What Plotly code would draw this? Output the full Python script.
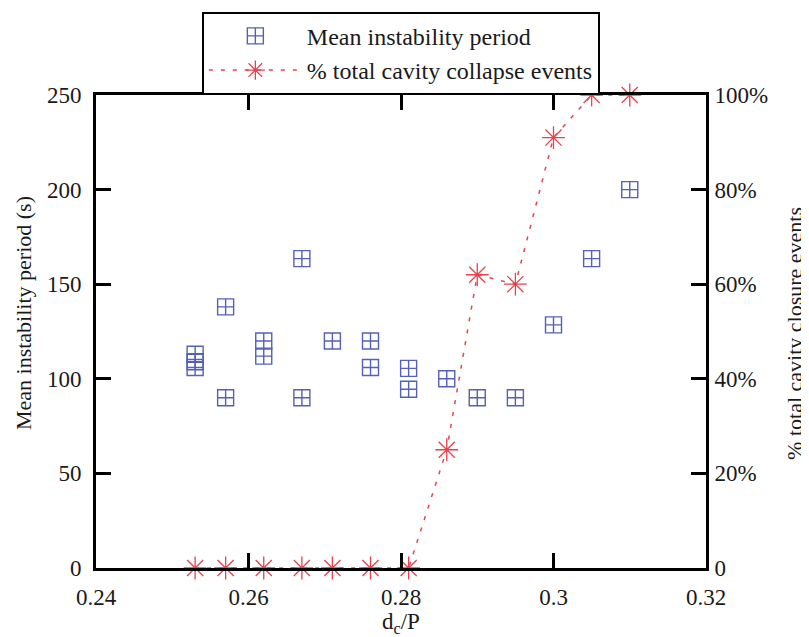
import plotly.graph_objects as go

# Mean instability period (s)
period_x = [0.253, 0.253, 0.253, 0.257, 0.257, 0.262, 0.262, 0.267, 0.267,
            0.271, 0.276, 0.276, 0.281, 0.281, 0.286, 0.290, 0.295, 0.300,
            0.305, 0.310]
period_y = [113, 109, 106, 138, 90, 120, 112, 163.5, 90,
            120, 120, 106, 105.5, 94.5, 100, 90, 90, 128.5,
            163.5, 200]

# % total cavity collapse events
pct_x = [0.253, 0.257, 0.262, 0.267, 0.271, 0.276, 0.281, 0.286, 0.290,
         0.295, 0.300, 0.305, 0.310]
pct_y = [0, 0, 0, 0, 0, 0, 0, 25, 62, 60, 91, 100, 100]

x_ticks = [0.24, 0.26, 0.28, 0.30, 0.32]
x_ticklabels = ["0.24", "0.26", "0.28", "0.3", "0.32"]
y_ticks = [0, 50, 100, 150, 200, 250]
y2_ticks = [0, 20, 40, 60, 80, 100]
y2_ticklabels = ["0", "20%", "40%", "60%", "80%", "100%"]

FONT = "'Liberation Serif', 'Times New Roman', serif"
TXT = "#1a1a1a"
BLUE = "#5560b8"
RED = "#e8424c"
FS = 23

fig = go.Figure()
fig.add_trace(go.Scatter(
    x=period_x, y=period_y, mode="markers", name="Mean instability period",
    marker=dict(symbol="square-cross-open", size=16, color=BLUE,
                line=dict(width=1.4, color=BLUE)),
    yaxis="y", cliponaxis=False))
fig.add_trace(go.Scatter(
    x=pct_x, y=pct_y, mode="lines+markers", name="% total cavity collapse events",
    line=dict(color=RED, width=1.5, dash="4px,8px"),
    marker=dict(symbol="asterisk-open", size=19, color=RED,
                line=dict(width=1.3, color=RED)),
    yaxis="y2", cliponaxis=False))

axis_common = dict(showgrid=False, zeroline=False, showline=True,
                   linecolor="black", linewidth=3, ticks="inside",
                   ticklen=15, tickwidth=3, tickcolor="black",
                   tickfont=dict(family=FONT, size=FS, color=TXT))

# page body has an 8px margin, so the figure is 8px smaller than the window
fig.update_layout(
    width=801, height=629,
    margin=dict(l=88, r=103, t=87, b=69, autoexpand=False),
    paper_bgcolor="white", plot_bgcolor="white",
    font=dict(family=FONT, size=FS, color=TXT),
    showlegend=True,
    legend=dict(xref="container", yref="container",
                x=0.242, y=0.994, xanchor="left", yanchor="top",
                bgcolor="white", bordercolor="black", borderwidth=2,
                font=dict(family=FONT, size=24, color=TXT),
                itemwidth=93, tracegroupgap=0),
    xaxis=dict(range=[0.24, 0.32], tickvals=x_ticks, ticktext=x_ticklabels,
               mirror="ticks", ticklabelstandoff=6,
               title=dict(text="d<sub>c</sub>/P", standoff=3,
                          font=dict(family=FONT, size=FS, color=TXT)),
               **axis_common),
    yaxis=dict(range=[0, 250], tickvals=y_ticks, ticklabelstandoff=7,
               **axis_common),
    yaxis2=dict(range=[0, 100], tickvals=y2_ticks, ticktext=y2_ticklabels,
                overlaying="y", side="right", ticklabelstandoff=1,
                **axis_common),
    annotations=[
        dict(text="Mean instability period (s)", textangle=-90,
             xref="paper", yref="paper", x=-0.1197, y=0.539,
             xanchor="center", yanchor="middle", showarrow=False,
             font=dict(family=FONT, size=22, color=TXT)),
        dict(text="% total cavity closure events", textangle=-90,
             xref="paper", yref="paper", x=1.1459, y=0.497,
             xanchor="center", yanchor="middle", showarrow=False,
             font=dict(family=FONT, size=22, color=TXT)),
    ],
)

fig.write_html("out.html")
